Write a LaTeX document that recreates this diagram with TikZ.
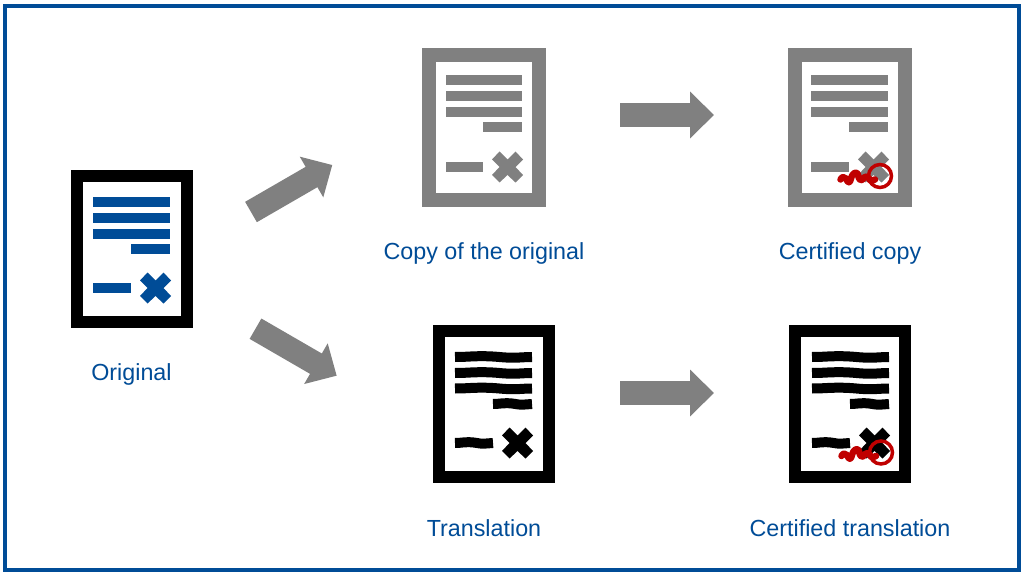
\documentclass[tikz,border=0pt]{standalone}
\usepackage{fontspec}
\setmainfont{Liberation Sans}
\usetikzlibrary{arrows.meta}
\definecolor{brandblue}{HTML}{004C97}
\definecolor{arrowgray}{HTML}{808080}
\definecolor{sealred}{HTML}{C00000}
\tikzset{
  frameline/.style={draw=brandblue,line width=4pt},
  blackframe/.style={draw=black,fill=white,line width=12pt,minimum width=110pt,minimum height=146pt,inner sep=0pt,outer sep=0pt},
  grayframe/.style={draw=arrowgray,fill=white,line width=14pt,minimum width=110pt,minimum height=145pt,inner sep=0pt,outer sep=0pt},
  ink/.style={draw=#1,line width=10pt,line cap=butt},
  crossink/.style={fill=#1,draw=none},
  bigarrow/.style={draw=arrowgray,line width=23.5pt,-{Triangle[length=24pt,width=45.5pt,fill=arrowgray]}},
  caption/.style={text=brandblue,font=\fontsize{23.3pt}{28pt}\selectfont,inner sep=0pt,anchor=base},
  seal/.style={draw=sealred,line width=3.5pt},
  scrawl/.style={draw=sealred,line width=6.5pt,line cap=round,line join=round},
}
\newcommand{\crossmark}[2]{% colour, vertical centre
  \fill[crossink=#1] (23.5,#2) ++(-15.5,-7.5) -- ++(7.5,-8) -- ++(8,8) -- ++(8,-8) -- ++(7.5,8)
      -- ++(-7.5,7.5) -- ++(7.5,8) -- ++(-7.5,7.5) -- ++(-8,-7.5) -- ++(-8,7.5) -- ++(-7.5,-7.5) -- ++(7.5,-8) -- cycle;}
% #1 node name, #2 centre x, #3 centre y, #4 frame style, #5 ink colour, #6 y of lower row, #7 x offset of bars
\newcommand{\straightdoc}[7]{%
  \node[#4] (#1) at (#2,#3) {};
  \begin{scope}[shift={(#2,#3)}]
    \draw[ink=#5] ({-39+#7},-47) -- (38,-47);
    \draw[ink=#5] ({-39+#7},-31) -- (38,-31);
    \draw[ink=#5] ({-39+#7},-15.5) -- (38,-15.5);
    \draw[ink=#5] (-1,0) -- (38,0);
    \draw[ink=#5] ({-39+#7},#6) -- (-1,#6);
    \crossmark{#5}{#6}
  \end{scope}}
\newcommand{\wavebar}[3]{% x0, x1, y : flat ends, slight swell along the bar
  \draw[ink=black] (#1,#3)
    .. controls ({#1+(#2-#1)*0.15},#3) and ({#1+(#2-#1)*0.2},{#3-0.8}) .. ({#1+(#2-#1)*0.35},{#3-0.8})
    .. controls ({#1+(#2-#1)*0.55},{#3-0.8}) and ({#1+(#2-#1)*0.6},{#3+0.7}) .. ({#1+(#2-#1)*0.75},{#3+0.7})
    .. controls ({#1+(#2-#1)*0.85},{#3+0.7}) and ({#1+(#2-#1)*0.9},#3) .. (#2,#3);}
% #1 node name, #2 frame centre x, #3 centre y, #4 x of the contents
\newcommand{\wavydoc}[4]{%
  \node[blackframe] (#1) at (#2,#3) {};
  \begin{scope}[shift={(#4,#3)}]
    \wavebar{-39}{38}{-47}
    \wavebar{-39}{38}{-31}
    \wavebar{-39}{38}{-15.5}
    \wavebar{-1}{38}{0}
    \wavebar{-39}{-1}{39}
    \crossmark{black}{39}
  \end{scope}}
\newcommand{\sealmark}[2]{%
  \begin{scope}[shift={(#1,#2)}]
    \draw[scrawl] (-9.5,52) .. controls (-8,49) and (-6,49) .. (-4,51)
      .. controls (-2,56) and (0,56) .. (1,51)
      .. controls (3,44) and (7,44) .. (8,47)
      .. controls (9,54) and (12,54) .. (14,50)
      .. controls (16,48) and (18,49) .. (19,51)
      .. controls (20,54) and (23,54) .. (25,52);
    \draw[seal] (30,48.5) circle (11.5);
  \end{scope}}
\begin{document}
\begin{tikzpicture}[x=1pt,y=-1pt]
\useasboundingbox (0,0) rectangle (1026,575);
\fill[white] (0,0) rectangle (1026,575);
\draw[frameline] (5,6) rectangle (1019,570);
% documents
\straightdoc{orig}{132}{249}{blackframe}{brandblue}{39}{0}
\straightdoc{copydoc}{484}{127.5}{grayframe}{arrowgray}{39.5}{1}
\straightdoc{certcopy}{850}{127.5}{grayframe}{arrowgray}{39.5}{0}
\sealmark{850}{127.5}
\wavydoc{transdoc}{494}{404}{494}
\wavydoc{certtrans}{850}{404}{851}
\sealmark{851}{404}
% captions
\node[caption] (l1) at (131.5,380) {Original};
\node[caption] (l2) at (484,259) {Copy of the original};
\node[caption] (l3) at (850,259) {Certified copy};
\node[caption] (l4) at (484,536) {Translation};
\node[caption] (l5) at (850,536) {Certified translation};
% arrows
\coordinate (a1s) at (251,212);
\coordinate (a1e) at (332.3,165);
\coordinate (a2s) at (255.5,328.7);
\coordinate (a2e) at (336.7,375.7);
\coordinate (a3s) at (620,115);
\coordinate (a3e) at (714,115);
\coordinate (a4s) at (620,393);
\coordinate (a4e) at (714,393);
\draw[bigarrow] (a1s) -- (a1e);
\draw[bigarrow] (a2s) -- (a2e);
\draw[bigarrow] (a3s) -- (a3e);
\draw[bigarrow] (a4s) -- (a4e);
\end{tikzpicture}
\end{document}
